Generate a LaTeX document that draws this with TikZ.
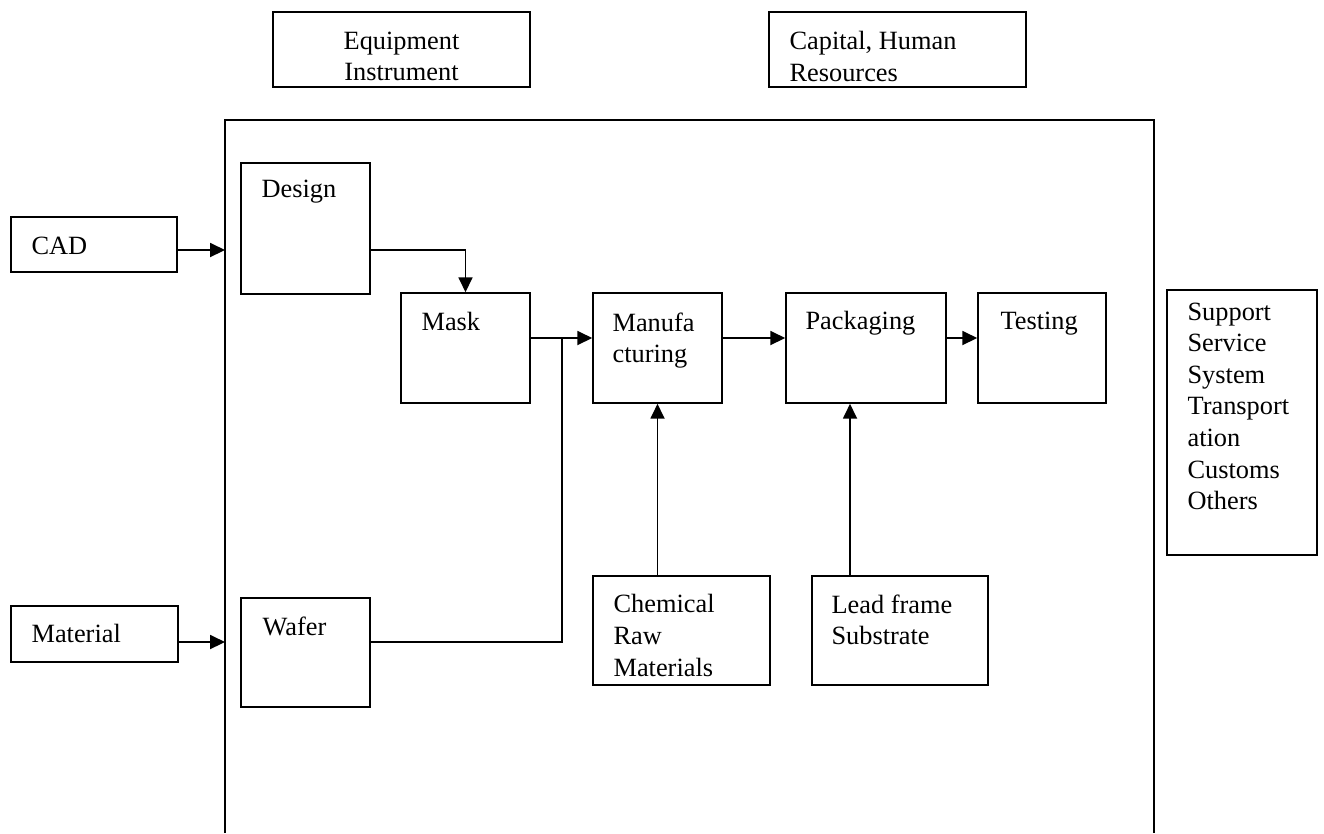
\documentclass[tikz,border=0pt]{standalone}
\usepackage{fontspec}
\setmainfont{Liberation Serif}
\usetikzlibrary{arrows.meta,positioning,calc}

\begin{document}
\begin{tikzpicture}[x=0.02cm, y=-0.02cm,
  box/.style={draw, line width=0.9pt, inner sep=0pt},
  txt/.style={anchor=north west, inner sep=0pt, align=left, font=\fontsize{15}{18}\selectfont},
  flow/.style={line width=0.9pt, -{Triangle[length=8.5pt,width=8pt]}},
  link/.style={line width=0.9pt}]
  \useasboundingbox (0,0) rectangle (1324,833);
  % Inputs on top
  \node[box, minimum width=5.14cm, minimum height=1.5cm] (equip) at (401.5,49.5) {};
  \node[txt, anchor=north, align=center] (equip-t) at ([yshift=-0.4cm]equip.north) {Equipment\\Instrument};
  \node[box, minimum width=5.14cm, minimum height=1.5cm] (capital) at (897.5,49.5) {};
  \node[txt] (capital-t) at ([shift={(21,20)}]capital.north west) {Capital, Human\\Resources};
  % Frame of the industry chain
  \draw[link] (225,833) |- (1154,120) -- (1154,833);
  \coordinate (frameL) at (225,120);
  \coordinate (rowA) at (0,250);
  \coordinate (rowM) at (0,338);
  \coordinate (rowB) at (0,642);
  \coordinate (join) at (562,338);
  \coordinate (feedP) at (850,0);
  % Outside inputs
  \node[box, minimum width=3.32cm, minimum height=1.1cm] (cad) at (94,244.5) {};
  \node[txt] (cad-t) at ([shift={(21,20)}]cad.north west) {CAD};
  \node[box, minimum width=3.34cm, minimum height=1.12cm] (material) at (94.5,634) {};
  \node[txt] (material-t) at ([shift={(21,19)}]material.north west) {Material};
  % Stages
  \node[box, minimum width=2.58cm, minimum height=2.62cm] (design) at (305.5,228.5) {};
  \node[txt] (design-t) at ([shift={(21,17)}]design.north west) {Design};
  \node[box, minimum width=2.58cm, minimum height=2.18cm] (wafer) at (305.5,652.5) {};
  \node[txt] (wafer-t) at ([shift={(22,19)}]wafer.north west) {Wafer};
  \node[box, minimum width=2.58cm, minimum height=2.2cm] (mask) at (465.5,348) {};
  \node[txt] (mask-t) at ([shift={(21,20)}]mask.north west) {Mask};
  \node[box, minimum width=2.58cm, minimum height=2.2cm] (manuf) at (657.5,348) {};
  \node[txt] (manuf-t) at ([shift={(20,20)}]manuf.north west) {Manufa\\cturing};
  \node[box, minimum width=3.2cm, minimum height=2.2cm] (packaging) at (866,348) {};
  \node[txt] (packaging-t) at ([shift={(20,19)}]packaging.north west) {Packaging};
  \node[box, minimum width=2.56cm, minimum height=2.2cm] (testing) at (1042,348) {};
  \node[txt] (testing-t) at ([shift={(23,19)}]testing.north west) {Testing};
  % Supplies
  \node[box, minimum width=3.54cm, minimum height=2.18cm] (chemical) at (681.5,630.5) {};
  \node[txt] (chemical-t) at ([shift={(21,19)}]chemical.north west) {Chemical\\Raw\\Materials};
  \node[box, minimum width=3.52cm, minimum height=2.18cm] (leadframe) at (900,630.5) {};
  \node[txt] (leadframe-t) at ([shift={(20,19)}]leadframe.north west) {Lead frame\\Substrate};
  % Support services
  \node[box, minimum width=3.0cm, minimum height=5.3cm] (support) at (1242,422.5) {};
  \node[txt] (support-t) at ([shift={(21,13)}]support.north west) {Support\\Service\\System\\Transport\\ation\\Customs\\Others};
  % Connectors
  \draw[flow] (cad.east |- rowA) -- (frameL |- rowA);
  \draw[flow] (material.east |- rowB) -- (frameL |- rowB);
  \draw[flow] (design.east |- rowA) -| (mask.north);
  \draw[flow] (mask.east |- rowM) -- (manuf.west |- rowM);
  \draw[link] (wafer.east |- rowB) -| (join);
  \draw[flow] (manuf.east |- rowM) -- (packaging.west |- rowM);
  \draw[flow] (packaging.east |- rowM) -- (testing.west |- rowM);
  \draw[flow] (chemical.north -| manuf.south) -- (manuf.south);
  \draw[flow] (leadframe.north -| feedP) -- (packaging.south -| feedP);
\end{tikzpicture}
\end{document}
